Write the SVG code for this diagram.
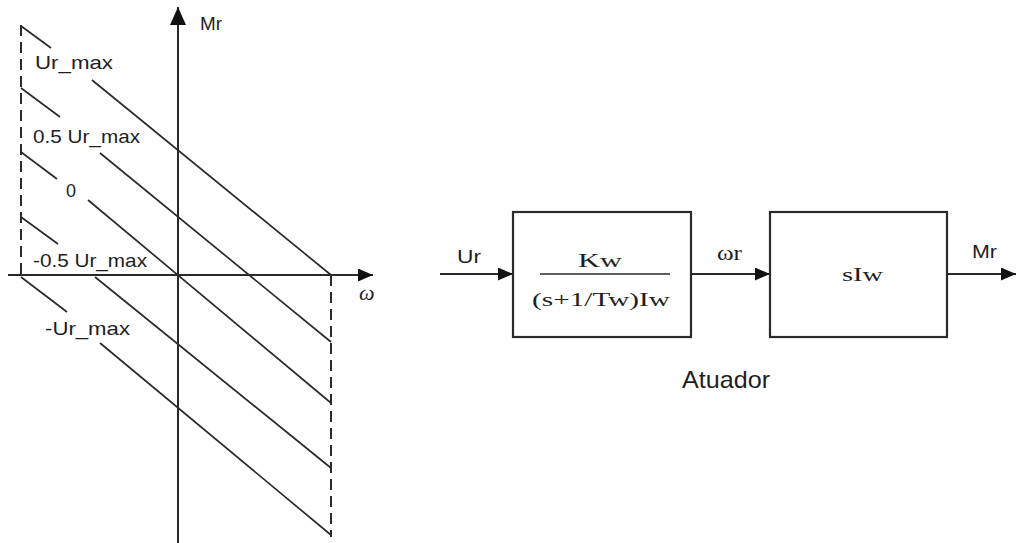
<svg xmlns="http://www.w3.org/2000/svg" width="1016" height="543" viewBox="0 0 1016 543">
  <defs>
    <style>
      .ax { stroke: #2a2a2a; stroke-width: 2; fill: none; }
      .dl { stroke: #2a2a2a; stroke-width: 1.7; fill: none; }
      .dash { stroke: #2a2a2a; stroke-width: 2; fill: none; stroke-dasharray: 11 6; }
      .box { stroke: #2a2a2a; stroke-width: 2.2; fill: #fff; }
      .lbl { font-family: "Liberation Sans", Arial, sans-serif; fill: #1e1e1e; }
      .ser { font-family: "Liberation Serif", "Times New Roman", serif; fill: #1e1e1e; }
    </style>
    <marker id="ah" markerUnits="userSpaceOnUse" markerWidth="16" markerHeight="14" refX="15" refY="6.5" orient="auto">
      <path d="M0,0 L15,6.5 L0,13 Z" fill="#111"/>
    </marker>
    <marker id="ahBig" markerUnits="userSpaceOnUse" markerWidth="19" markerHeight="18" refX="18" refY="8" orient="auto">
      <path d="M0,0 L18,8 L0,16 Z" fill="#111"/>
    </marker>
  </defs>
  <rect width="1016" height="543" fill="#fff"/>

  <!-- Left characteristic plot -->
  <g id="plot">
    <line class="ax" x1="8" y1="275" x2="373" y2="275" marker-end="url(#ah)"/>
    <line class="ax" x1="178" y1="543" x2="178" y2="7" marker-end="url(#ahBig)"/>
    <line class="dash" x1="21" y1="25" x2="21" y2="275"/>
    <line class="dash" x1="331" y1="275" x2="331" y2="537"/>

    <line class="dl" x1="21" y1="26" x2="51" y2="48"/>
    <line class="dl" x1="92" y1="80" x2="331" y2="275"/>
    <line class="dl" x1="21" y1="88" x2="60" y2="117"/>
    <line class="dl" x1="100" y1="153" x2="331" y2="342"/>
    <line class="dl" x1="21" y1="152" x2="57" y2="179"/>
    <line class="dl" x1="88" y1="200" x2="331" y2="403"/>
    <line class="dl" x1="21" y1="217" x2="58" y2="244"/>
    <line class="dl" x1="95" y1="277" x2="331" y2="468"/>
    <line class="dl" x1="21" y1="277" x2="67" y2="312"/>
    <line class="dl" x1="100" y1="343" x2="331" y2="535"/>

    <text class="lbl" x="35" y="69" font-size="19" textLength="78" lengthAdjust="spacingAndGlyphs">Ur_max</text>
    <text class="lbl" x="33" y="143" font-size="19" textLength="107" lengthAdjust="spacingAndGlyphs">0.5 Ur_max</text>
    <text class="lbl" x="66" y="197" font-size="18">0</text>
    <text class="lbl" x="33" y="267" font-size="19" textLength="114" lengthAdjust="spacingAndGlyphs">-0.5 Ur_max</text>
    <text class="lbl" x="45" y="335" font-size="19" textLength="85" lengthAdjust="spacingAndGlyphs">-Ur_max</text>
    <text class="lbl" x="200" y="30" font-size="19" textLength="22" lengthAdjust="spacingAndGlyphs">Mr</text>
    <text class="ser" x="359" y="300" font-size="22" font-style="italic">ω</text>
  </g>

  <!-- Connectors -->
  <g id="connectors">
    <line class="ax" x1="440" y1="274" x2="513" y2="274" marker-end="url(#ah)"/>
    <line class="ax" x1="691" y1="274" x2="770" y2="274" marker-end="url(#ah)"/>
    <line class="ax" x1="947" y1="274" x2="1016" y2="274" marker-end="url(#ah)"/>
    <text class="lbl" x="457" y="263" font-size="19" textLength="24" lengthAdjust="spacingAndGlyphs">Ur</text>
    <text class="ser" x="717" y="260" font-size="20" textLength="25" lengthAdjust="spacingAndGlyphs">ωr</text>
    <text class="lbl" x="972" y="258" font-size="19" textLength="25" lengthAdjust="spacingAndGlyphs">Mr</text>
  </g>

  <!-- Block 1 -->
  <g id="block1">
    <rect class="box" x="513" y="212" width="178" height="125"/>
    <line class="dl" x1="540" y1="274" x2="670" y2="274"/>
    <text class="ser" x="578" y="267" font-size="19" textLength="44" lengthAdjust="spacingAndGlyphs">Kw</text>
    <text class="ser" x="532" y="306" font-size="19" textLength="138" lengthAdjust="spacingAndGlyphs">(s+1/Tw)Iw</text>
  </g>

  <!-- Block 2 -->
  <g id="block2">
    <rect class="box" x="770" y="212" width="177" height="125"/>
    <text class="ser" x="842" y="281" font-size="19" textLength="41" lengthAdjust="spacingAndGlyphs">sIw</text>
  </g>

  <g id="caption">
    <text class="lbl" x="682" y="388" font-size="24" textLength="88" lengthAdjust="spacingAndGlyphs">Atuador</text>
  </g>
</svg>
